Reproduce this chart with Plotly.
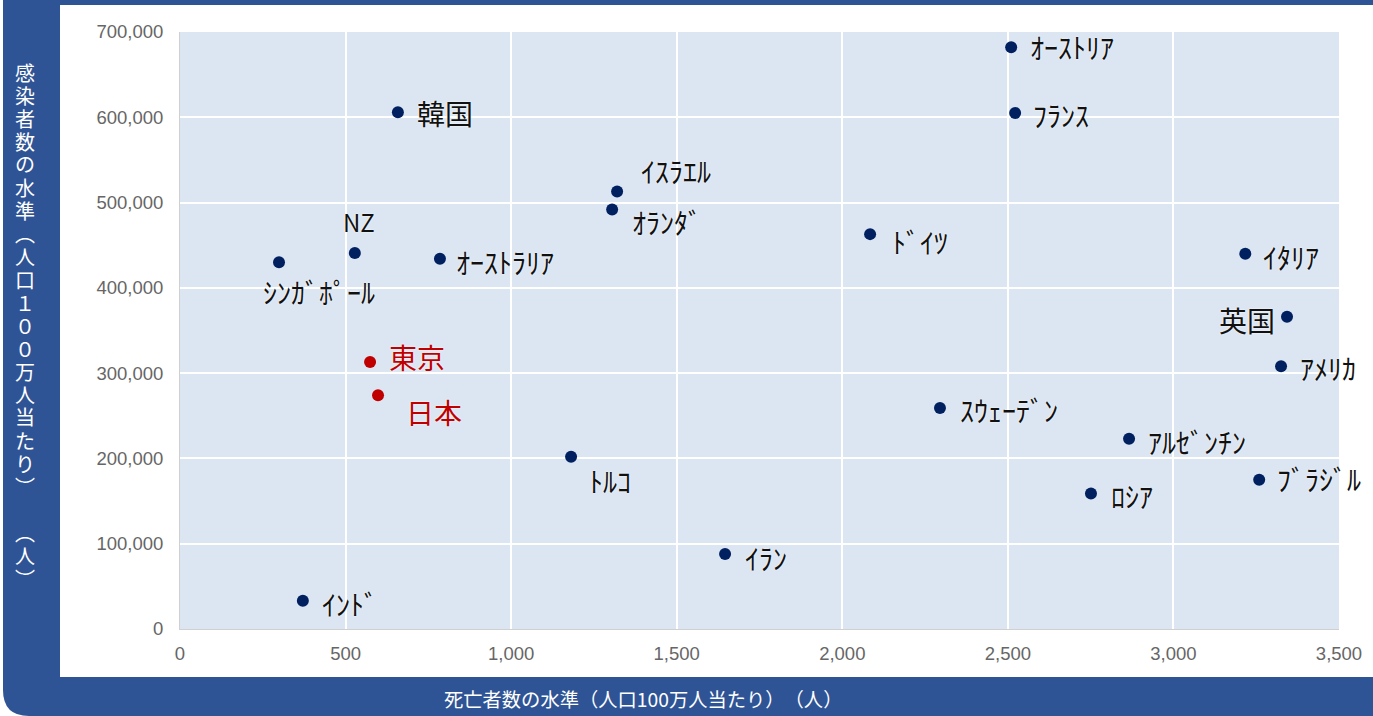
import plotly.graph_objects as go

# ---- data ----
countries = ["ｵｰｽﾄﾘｱ", "ﾌﾗﾝｽ", "韓国", "ｲｽﾗｴﾙ", "ｵﾗﾝﾀﾞ", "ﾄﾞｲﾂ", "NZ", "ｵｰｽﾄﾗﾘｱ",
             "ｼﾝｶﾞﾎﾟｰﾙ", "ｲﾀﾘｱ", "英国", "ｱﾒﾘｶ", "東京", "日本", "ｽｳｪｰﾃﾞﾝ",
             "ｱﾙｾﾞﾝﾁﾝ", "ﾄﾙｺ", "ﾌﾞﾗｼﾞﾙ", "ﾛｼｱ", "ｲﾗﾝ", "ｲﾝﾄﾞ"]
deaths = [2510, 2522, 658, 1320, 1305, 2084, 528, 785,
          299, 3217, 3343, 3325, 574, 598, 2295,
          2866, 1181, 3259, 2751, 1646, 371]
infections = [682000, 605000, 606000, 513000, 492000, 463000, 441000, 434000,
              430000, 440000, 366000, 308000, 313000, 274000, 259000,
              223000, 202000, 175000, 159000, 88000, 33000]
highlight = ["東京", "日本"]

x_ticks = [0, 500, 1000, 1500, 2000, 2500, 3000, 3500]
y_ticks = [0, 100000, 200000, 300000, 400000, 500000, 600000, 700000]

x_title = "死亡者数の水準（人口100万人当たり）　（人）"
y_title = "感染者数の水準（人口１００万人当たり）　（人）"

# ---- label placement (pixel offsets from marker: anchor, dx, dy-down) ----
label_pos = {
    "ｵｰｽﾄﾘｱ": ("left", 17, 0), "ﾌﾗﾝｽ": ("left", 16, 2), "韓国": ("left", 17, 1),
    "ｲｽﾗｴﾙ": ("left", 22, -20), "ｵﾗﾝﾀﾞ": ("left", 18, 13), "ﾄﾞｲﾂ": ("left", 20, 8),
    "NZ": ("center", 4, -31), "ｵｰｽﾄﾗﾘｱ": ("left", 14, 3), "ｼﾝｶﾞﾎﾟｰﾙ": ("center", 40, 30),
    "ｲﾀﾘｱ": ("left", 16, 3), "英国": ("right", -10, 3), "ｱﾒﾘｶ": ("left", 17, 2),
    "東京": ("left", 17, -5), "日本": ("left", 26, 17), "ｽｳｪｰﾃﾞﾝ": ("left", 18, 2),
    "ｱﾙｾﾞﾝﾁﾝ": ("left", 17, 3), "ﾄﾙｺ": ("left", 16, 24), "ﾌﾞﾗｼﾞﾙ": ("left", 16, -1),
    "ﾛｼｱ": ("left", 18, 3), "ｲﾗﾝ": ("left", 18, 4), "ｲﾝﾄﾞ": ("left", 17, 3),
}

W, H = 1373, 716
ML, MR, MT, MB = 180, 34, 32, 87
PW, PH = W - ML - MR, H - MT - MB


def px(xp):
    return (xp - ML) / PW


def py(yp):
    return (H - MB - yp) / PH


BLUE = "#2F5496"
NAVY = "#002060"
RED = "#C00000"
CJK = "Noto Sans CJK JP"

colors = [RED if c in highlight else NAVY for c in countries]

fig = go.Figure()
fig.add_trace(go.Scatter(
    x=deaths, y=infections, mode="markers",
    marker=dict(size=12, color=colors, line=dict(width=0)),
    hoverinfo="text", text=countries, showlegend=False,
))

annotations = []
for name, xv, yv in zip(countries, deaths, infections):
    anchor, dx, dy = label_pos[name]
    is_kanji = name in ("韓国", "英国", "東京", "日本")
    size = 28 if is_kanji else (24 if name == "NZ" else 28)
    annotations.append(dict(
        x=xv, y=yv, xref="x", yref="y", text=name, showarrow=False,
        xanchor=anchor, yanchor="middle", xshift=dx, yshift=-dy,
        font=dict(family=CJK, size=size, color=RED if name in highlight else "#111111",
                  shadow="0px 0px 2px white"),
    ))

# vertical y-axis title: upright characters stacked at a fixed pitch
vert = y_title.replace("（", "︵").replace("）", "︶")
V_TOP, V_PITCH = 72, 23
for i, ch in enumerate(vert):
    if ch == "　":
        continue
    annotations.append(dict(
        x=px(25), y=py(V_TOP + i * V_PITCH), xref="paper", yref="paper", showarrow=False,
        xanchor="center", yanchor="middle", text=ch, borderpad=0,
        font=dict(family=CJK, size=20, color="white"),
    ))
# x-axis title
annotations.append(dict(
    x=px(643), y=py(699), xref="paper", yref="paper", showarrow=False,
    xanchor="center", yanchor="middle", text=x_title,
    font=dict(family=CJK, size=19.3, color="white"),
))

r = 26
frame_path = (f"M {px(3)},{py(0)} L {px(W + 5)},{py(0)} L {px(W + 5)},{py(H)} "
              f"L {px(3 + r)},{py(H)} Q {px(3)},{py(H)} {px(3)},{py(H - r)} Z")

shapes = [
    dict(type="path", path=frame_path, xref="paper", yref="paper",
         fillcolor=BLUE, line=dict(width=0), layer="below"),
    dict(type="rect", x0=px(60), x1=px(W + 5), y0=py(677), y1=py(5), xref="paper", yref="paper",
         fillcolor="white", line=dict(width=0), layer="below"),
    dict(type="rect", x0=0, x1=1, y0=0, y1=1, xref="paper", yref="paper",
         fillcolor="#DCE6F2", line=dict(width=0), layer="below"),
]

tick_font = dict(family="Liberation Sans, Arial", size=18.5, color="#666666")

fig.update_layout(
    width=W, height=H,
    margin=dict(l=ML, r=MR, t=MT, b=MB),
    paper_bgcolor="white", plot_bgcolor="rgba(0,0,0,0)",
    shapes=shapes, annotations=annotations,
    xaxis=dict(range=[0, 3500], tickvals=x_ticks, tickformat=",", showgrid=True,
               gridcolor="white", gridwidth=2, zeroline=False, showline=True,
               linecolor="#D0D0D0", linewidth=1, ticks="", tickfont=tick_font,
               ticklabelstandoff=8, fixedrange=True),
    yaxis=dict(range=[0, 700000], tickvals=y_ticks, tickformat=",", showgrid=True,
               gridcolor="white", gridwidth=2, zeroline=False, showline=True,
               linecolor="#D0D0D0", linewidth=1, ticks="", tickfont=tick_font,
               ticklabelstandoff=12, fixedrange=True),
)

fig.write_html("out.html", config={"displayModeBar": False},
               post_script="document.body.style.margin='0px';")
